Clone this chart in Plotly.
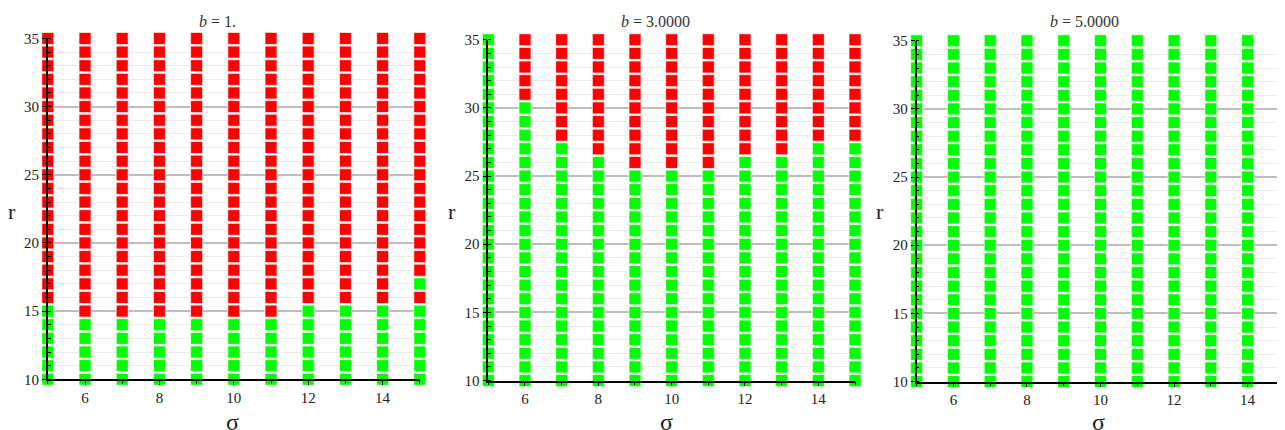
import plotly.graph_objects as go

# ---- data ----
sigma = [5, 6, 7, 8, 9, 10, 11, 12, 13, 14, 15]
r_values = [10, 11, 12, 13, 14, 15, 16, 17, 18, 19, 20, 21, 22, 23, 24, 25,
            26, 27, 28, 29, 30, 31, 32, 33, 34, 35]
panel_titles = ["<i>b</i> = 1.", "<i>b</i> = 3.0000", "<i>b</i> = 5.0000"]
# highest r that is still green (stable) in each sigma column
b1_green_top = [15, 14, 14, 14, 14, 14, 14, 15, 15, 15, 15]
b3_green_top = [35, 30, 27, 26, 25, 25, 25, 26, 26, 27, 27]
b5_green_top = [35, 35, 35, 35, 35, 35, 35, 35, 35, 35, 35]
# isolated green points above the threshold: (sigma, r)
b1_extra_green = [(15, 17)]
b3_extra_green = []
b5_extra_green = []

x_ticks = [6, 8, 10, 12, 14]
y_ticks = [10, 15, 20, 25, 30, 35]

GREEN = "#00ff00"
RED = "#ff0000"
FONT = "Liberation Serif"

panels = [
    (b1_green_top, b1_extra_green),
    (b3_green_top, b3_extra_green),
    (b5_green_top, b5_extra_green),
]

W, H = 1285, 430
# calibration of the page: paper (0..1) -> screen pixels
OX, OY, PW, PH = 8.0, 17.0, 1285.0, 413.0


def px(x):
    return (x - OX) / PW


def py(y):
    return 1 - (y - OY) / PH


# plot-area pixel boxes on screen (left, right, top, bottom)
boxes = [
    (47.8, 419.8, 39.4, 379.4),
    (488.3, 855.0, 40.7, 380.7),
    (916.6, 1284.4, 41.7, 381.7),
]
title_x = [217, 655, 1084]
ylab_x = [12, 452, 880]
xlab_x = [233, 667, 1098]

fig = go.Figure()
for i, (tops, extras) in enumerate(panels):
    gx, gy, rx, ry = [], [], [], []
    for s, top in zip(sigma, tops):
        for r in r_values:
            if r <= top or (s, r) in extras:
                gx.append(s); gy.append(r)
            else:
                rx.append(s); ry.append(r)
    suffix = "" if i == 0 else str(i + 1)
    for xs, ys, col in ((rx, ry, RED), (gx, gy, GREEN)):
        fig.add_trace(go.Scatter(
            x=xs, y=ys, mode="markers", xaxis="x" + suffix, yaxis="y" + suffix,
            cliponaxis=False, showlegend=False, hoverinfo="skip",
            marker=dict(symbol="square", size=12, color=col,
                        line=dict(color="rgba(255,255,255,0.7)", width=1)),
        ))
    l, rgt, t, b = boxes[i]
    xa = dict(
        domain=[px(l), px(rgt)], range=[5, 15], anchor="y" + suffix,
        tickvals=x_ticks, ticks="outside", ticklen=4, tickcolor="black",
        showline=True, linecolor="black", linewidth=1.5,
        showgrid=False, zeroline=False,
        minor=dict(dtick=1, tick0=5, ticks="outside", ticklen=3, tickcolor="black",
                   showgrid=False),
        tickfont=dict(family=FONT, size=15, color="#222"),
    )
    ya = dict(
        domain=[py(b), py(t)], range=[10, 35], anchor="x" + suffix,
        tickvals=y_ticks, ticks="outside", ticklen=4, tickcolor="black",
        showline=True, linecolor="black", linewidth=1.5,
        showgrid=True, gridcolor="#bdbdbd", gridwidth=1.5, zeroline=False,
        minor=dict(dtick=1, tick0=10, ticks="inside", ticklen=3, tickcolor="black",
                   showgrid=True, gridcolor="#ececec", gridwidth=1),
        tickfont=dict(family=FONT, size=15, color="#222"),
    )
    fig.update_layout({"xaxis" + suffix: xa, "yaxis" + suffix: ya})
    fig.add_annotation(x=px(title_x[i]), y=py(22), xref="paper", yref="paper",
                       xanchor="center", yanchor="middle",
                       text=panel_titles[i], showarrow=False,
                       font=dict(family=FONT, size=16, color="#333"))
    fig.add_annotation(x=px(ylab_x[i]), y=py(212), xref="paper", yref="paper",
                       xanchor="center", yanchor="middle",
                       text="r", showarrow=False,
                       font=dict(family=FONT, size=22, color="#222"))
    fig.add_annotation(x=px(xlab_x[i]), y=py(407), xref="paper", yref="paper",
                       xanchor="center", yanchor="top", text="σ", showarrow=False,
                       font=dict(family=FONT, size=24, color="#222"))

fig.update_layout(
    width=W, height=H, margin=dict(l=0, r=0, t=0, b=0),
    paper_bgcolor="white", plot_bgcolor="white", showlegend=False,
)
fig.write_html("out.html")
